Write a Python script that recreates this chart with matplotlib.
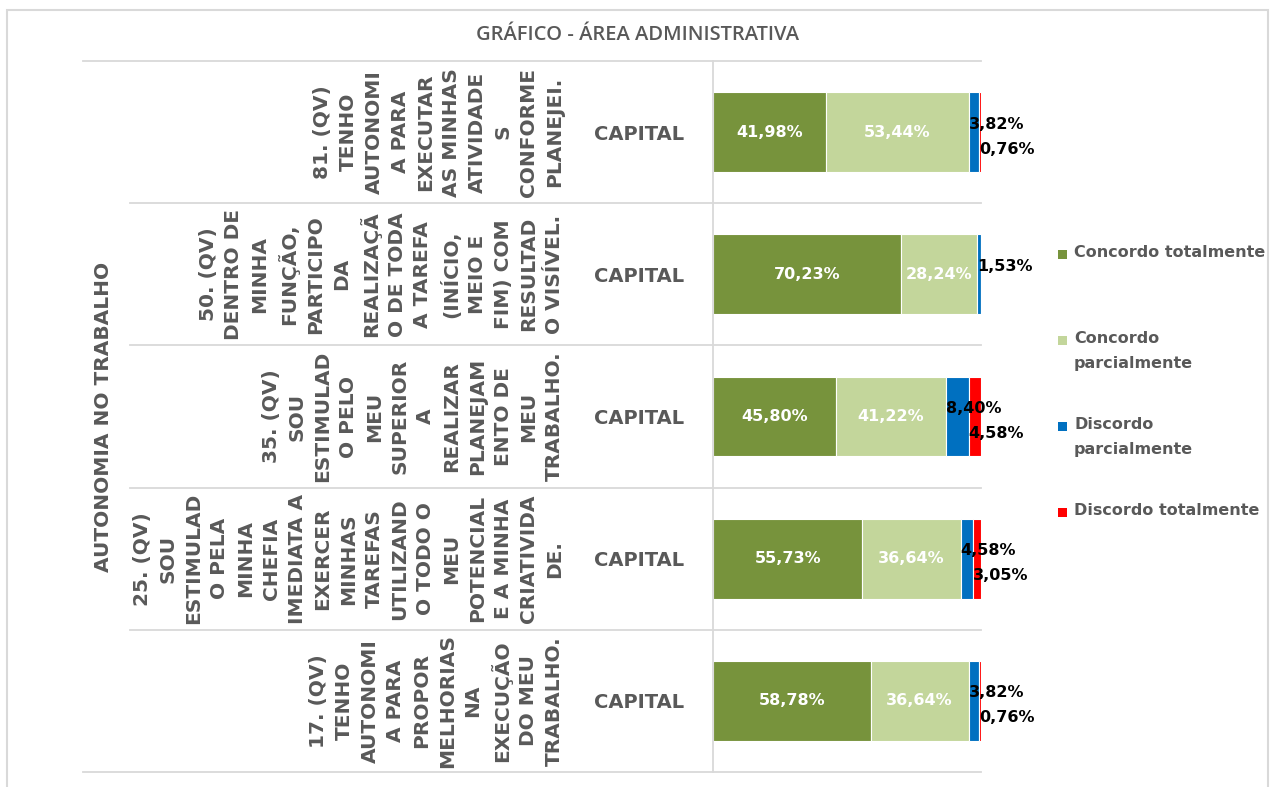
import matplotlib.pyplot as plt
import matplotlib.transforms as mtransforms
from matplotlib.lines import Line2D
from matplotlib.patches import Rectangle


title = "GRÁFICO - ÁREA ADMINISTRATIVA"
group_label = "AUTONOMIA NO TRABALHO"
region = "CAPITAL"

# question labels, top to bottom, with the line breaks of the original
questions = [
    "81. (QV)\nTENHO\nAUTONOMI\nA PARA\nEXECUTAR\nAS MINHAS\nATIVIDADE\nS\nCONFORME\nPLANEJEI.",
    "50. (QV)\nDENTRO DE\nMINHA\nFUNÇÃO,\nPARTICIPO\nDA\nREALIZAÇÃ\nO DE TODA\nA TAREFA\n(INÍCIO,\nMEIO E\nFIM) COM\nRESULTAD\nO VISÍVEL.",
    "35. (QV)\nSOU\nESTIMULAD\nO PELO\nMEU\nSUPERIOR\nA\nREALIZAR\nPLANEJAM\nENTO DE\nMEU\nTRABALHO.",
    "25. (QV)\nSOU\nESTIMULAD\nO PELA\nMINHA\nCHEFIA\nIMEDIATA A\nEXERCER\nMINHAS\nTAREFAS\nUTILIZAND\nO TODO O\nMEU\nPOTENCIAL\nE A MINHA\nCRIATIVIDA\nDE.",
    "17. (QV)\nTENHO\nAUTONOMI\nA PARA\nPROPOR\nMELHORIAS\nNA\nEXECUÇÃO\nDO MEU\nTRABALHO.",
]

series_names = ["Concordo totalmente", "Concordo\nparcialmente",
                "Discordo\nparcialmente", "Discordo totalmente"]

concordo_total = [41.98, 70.23, 45.80, 55.73, 58.78]
concordo_parcial = [53.44, 28.24, 41.22, 36.64, 36.64]
discordo_parcial = [3.82, 1.53, 8.40, 4.58, 3.82]
discordo_total = [0.76, 0.00, 4.58, 3.05, 0.76]

colors = ["#77933C", "#C3D69B", "#0070C0", "#FF0000"]

W, H = 1271, 787
GRAY = "#595959"
LINE = "#D9D9D9"
BOLD = {"family": "DejaVu Sans", "weight": "bold"}


def fmt(v):
    return "{:.2f}%".format(v).replace(".", ",")


def DrawBars(ax, series):
    rows = list(range(len(questions)))
    left = [0.0] * len(rows)
    for k, vals in enumerate(series):
        ax.barh(rows, vals, left=left, height=0.56, color=colors[k],
                edgecolor="white", linewidth=0.8)
        for i, v in enumerate(vals):
            if v <= 0:
                continue
            if k < 2:
                ax.text(left[i] + v / 2, i, fmt(v), ha="center", va="center",
                        color="white", fontsize=11.5, **BOLD)
            else:
                dy = 8 if k == 2 else -17
                ax.annotate(fmt(v), (left[i], i), xytext=(0, dy),
                            textcoords="offset pixels", ha="left",
                            va="center", color="black", fontsize=11.5,
                            annotation_clip=False, **BOLD)
        left = [a + b for a, b in zip(left, vals)]


def DrawCategoryAxis(fig, ax):
    n = len(questions)
    ax.set_yticks(range(n), labels=[region] * n)
    ax.tick_params(axis="y", length=0, pad=21, labelcolor=GRAY)
    for lab in ax.get_yticklabels():
        lab.set_fontsize(14)
        lab.set_fontfamily("DejaVu Sans")
        lab.set_fontweight("bold")

    ytrans = ax.get_yaxis_transform()
    for i, q in enumerate(questions):
        ax.text((564 - 713) / 268, i, q, transform=ytrans, rotation=90,
                ha="right", va="center", multialignment="center",
                linespacing=1.45, color=GRAY, fontsize=14.5, **BOLD)
    ax.text((103 - 713) / 268, 0.5, group_label, transform=ax.transAxes,
            rotation=90, ha="center", va="center", color=GRAY,
            fontsize=14.5, **BOLD)

    # separators between categories
    tr = mtransforms.blended_transform_factory(fig.transFigure, ax.transData)
    x_end = (713 + 268) / W
    for b in range(n + 1):
        x0 = 83 / W if b in (0, n) else 130 / W
        fig.add_artist(Line2D([x0, x_end], [b - 0.5, b - 0.5], transform=tr,
                              color=LINE, linewidth=1.3))


def DrawLegend(fig):
    for k, name in enumerate(series_names):
        y = 1 - (254 + 86 * k) / H
        fig.add_artist(Rectangle((1058 / W, y - 4.5 / H), 9 / W, 9 / H,
                                 transform=fig.transFigure,
                                 facecolor=colors[k], edgecolor="none"))
        fig.text(1074 / W, y + 9 / H, name, ha="left", va="top",
                 color=GRAY, fontsize=11.5, linespacing=1.85, **BOLD)


def main():
    fig = plt.figure(figsize=(W / 100, H / 100), dpi=100)
    ax = fig.add_axes([713 / W, (H - 772) / H, 268 / W, 711 / H])

    DrawBars(ax, [concordo_total, concordo_parcial, discordo_parcial,
                  discordo_total])
    ax.set_xlim(0, 100)
    ax.set_ylim(len(questions) - 0.5, -0.5)
    ax.set_xticks([])
    for s in ["top", "right", "bottom"]:
        ax.spines[s].set_visible(False)
    ax.spines["left"].set_color(LINE)
    ax.spines["left"].set_linewidth(1.3)

    DrawCategoryAxis(fig, ax)
    DrawLegend(fig)

    fig.text(638 / W, 1 - 35 / H, title, ha="center", va="center",
             color=GRAY, fontsize=14.5, family="Open Sans",
             fontweight="semibold")
    fig.add_artist(Rectangle((7 / W, -0.02), 1261 / W, 1.02 - 10 / H,
                             transform=fig.transFigure, fill=False,
                             edgecolor=LINE, linewidth=1.5))

    fig.savefig("out.png", dpi=100)


if __name__ == '__main__':
    main()
